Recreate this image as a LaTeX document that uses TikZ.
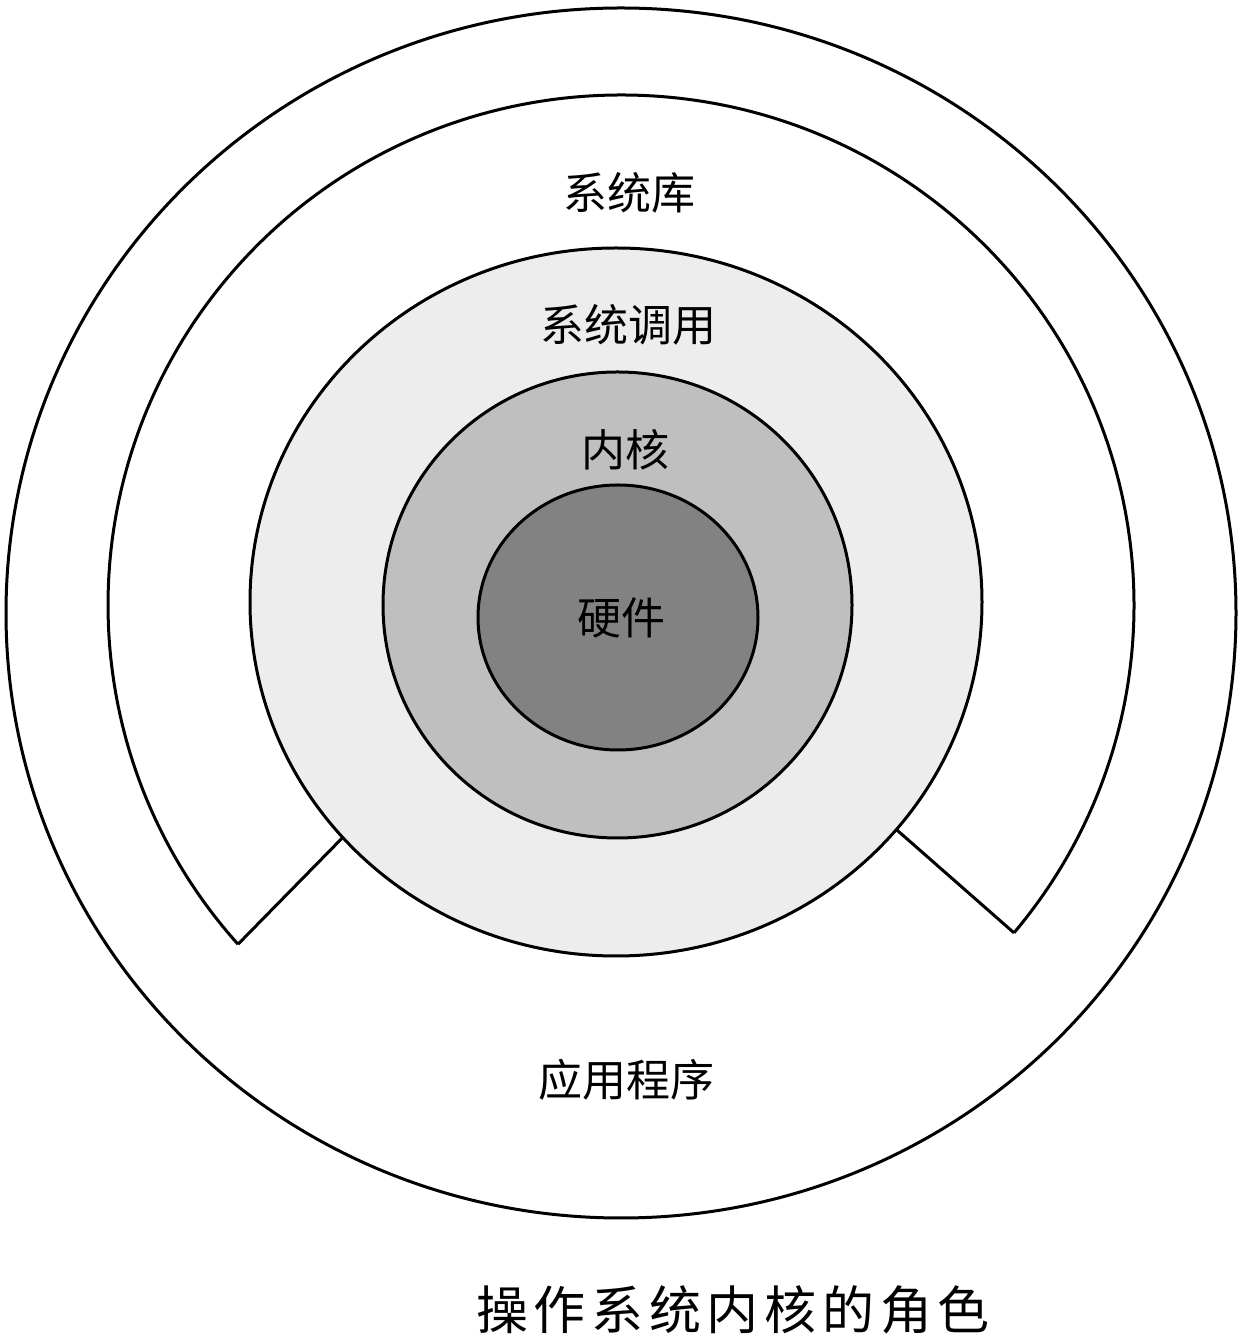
\documentclass[tikz,border=0pt]{standalone}
\usepackage{fontspec}
\usetikzlibrary{calc}
\setmainfont{Noto Sans CJK SC}
\newfontfamily\capfont[LetterSpace=11]{Noto Sans CJK SC}

\begin{document}
\begin{tikzpicture}[x=0.5pt,y=0.5pt,line width=1.5pt,
    lbl/.style={font=\fontsize{22}{26}\selectfont}]
  \useasboundingbox[fill=white] (0,0) rectangle (1244,1340);
  % applications
  \draw (621,727) ellipse [x radius=615,y radius=605];
  % system library, open at the bottom
  \draw (621,735) ++(-40:513 and 510) coordinate (libR)
    arc[start angle=-40,end angle=221.7,x radius=513,y radius=510] coordinate (libL);
  % system calls, kernel, hardware
  \draw[fill=black!7] (616,738) ellipse [x radius=366,y radius=354];
  \coordinate (sysL) at ($(616,738)+(221.7:366 and 354)$);
  \coordinate (sysR) at ($(616,738)+(-40:366 and 354)$);
  \draw (libL) -- (sysL);
  \draw (libR) -- (sysR);
  \draw[fill=black!25] (617.5,735) ellipse [x radius=234.5,y radius=233];
  \draw[fill=black!49] (618,722.5) ellipse [x radius=140,y radius=132.5];
  \node[lbl] (lib) at (629,1147) {系统库};
  \node[lbl] (sys) at (628,1015) {系统调用};
  \node[lbl] (ker) at (625,890) {内核};
  \node[lbl] (hw) at (621,722) {硬件};
  \node[lbl] (app) at (626,260) {应用程序};
  \node[font=\capfont\fontsize{26}{30}\selectfont] (cap) at (733,30) {操作系统内核的角色};
\end{tikzpicture}
\end{document}
